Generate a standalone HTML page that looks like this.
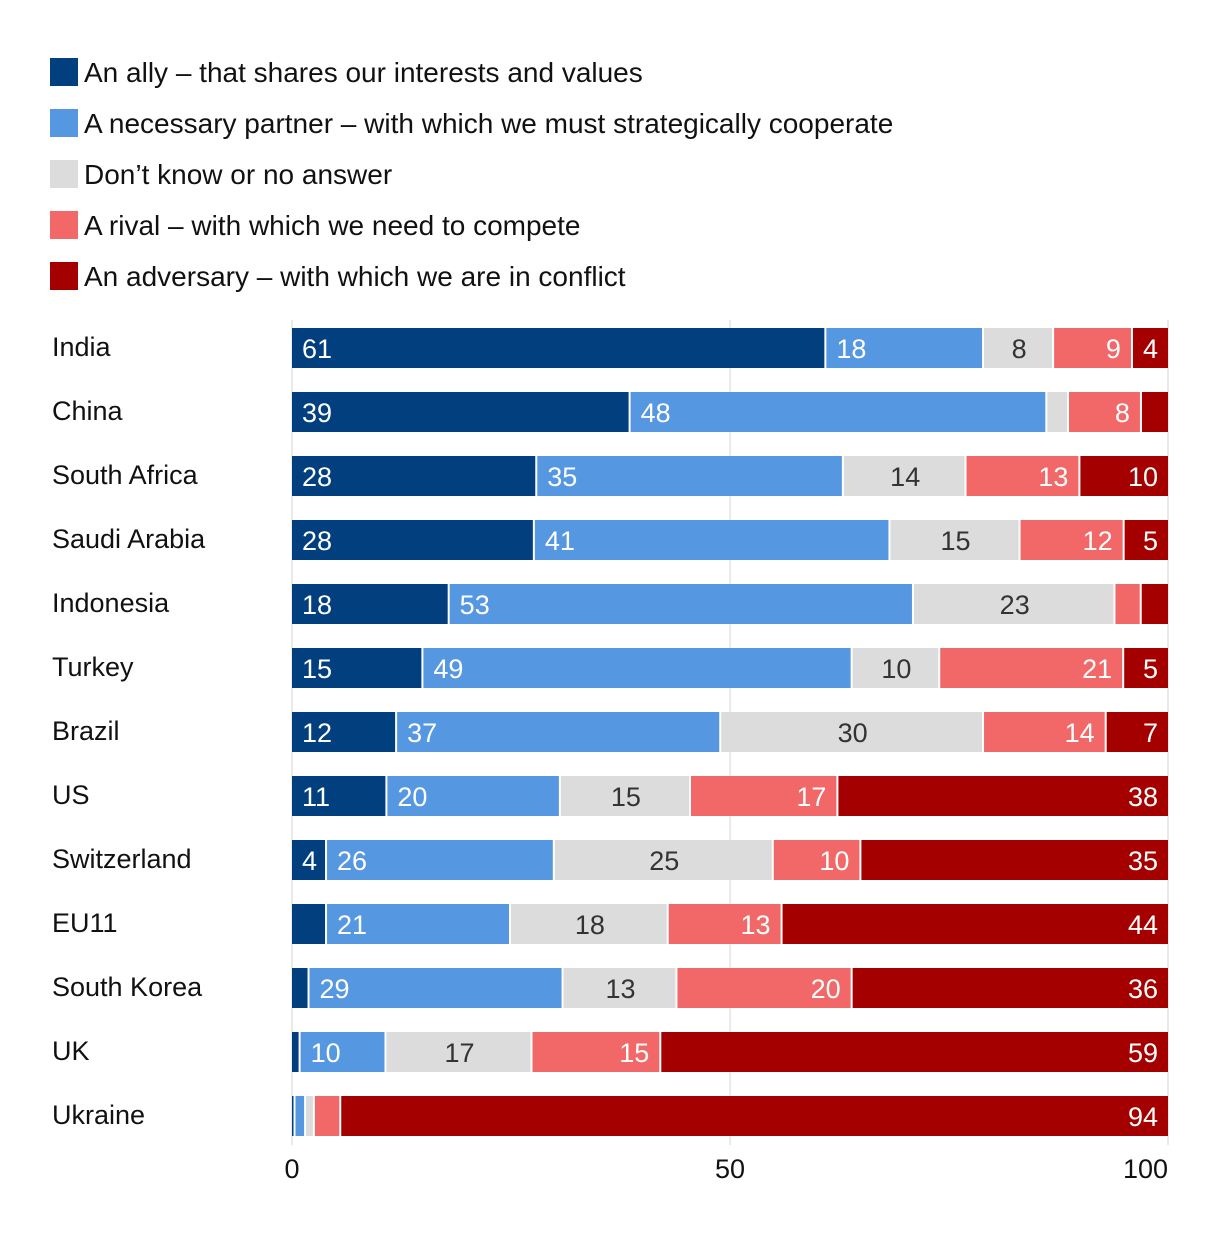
<!DOCTYPE html>
<html><head><meta charset="utf-8"><style>
body{margin:0;background:#fff;font-family:"Liberation Sans",sans-serif;}
svg text{font-family:"Liberation Sans",sans-serif;}
</style></head><body>
<svg id="chart" width="1220" height="1230" xmlns="http://www.w3.org/2000/svg">
<g id="legend"></g>
<g id="grid"></g>
<g id="bars"></g>
<g id="axis"></g>
</svg>
<script>
const categories=["India","China","South Africa","Saudi Arabia","Indonesia","Turkey","Brazil","US","Switzerland","EU11","South Korea","UK","Ukraine"];
const ally=[61,39,28,28,18,15,12,11,4,4,2,1,0.4];
const partner=[18,48,35,41,53,49,37,20,26,21,29,10,1.2];
const dontKnow=[8,2.5,14,15,23,10,30,15,25,18,13,17,1];
const rival=[9,8.4,13,12,3,21,14,17,10,13,20,15,3];
const adversary=[4,3,10,5,3,5,7,38,35,44,36,59,94];
const seriesNames=["An ally \u2013 that shares our interests and values","A necessary partner \u2013 with which we must strategically cooperate","Don\u2019t know or no answer","A rival \u2013 with which we need to compete","An adversary \u2013 with which we are in conflict"];
const tickValues=[0,50,100];
const hiddenLabels=["EU11-0"];
const series=[ally,partner,dontKnow,rival,adversary];
const colors=["#023f7f","#5597e1","#dcdcdc","#f26868","#a50000"];
const textColors=["#fff","#fff","#333","#fff","#fff"];
const align=["start","start","middle","end","end"];
const keys=["ally","partner","dont-know","rival","adversary"];
const NS="http://www.w3.org/2000/svg";
const x0=292,x1=1168;
const xs=v=>x0+(x1-x0)*v/100;
const rowY=i=>328+i*64;
function mk(tag,attrs,parent){const e=document.createElementNS(NS,tag);for(const k in attrs)e.setAttribute(k,attrs[k]);parent.appendChild(e);return e;}
const legend=document.getElementById('legend');
seriesNames.forEach((n,i)=>{
  const y=58+i*51;
  const r=mk('rect',{x:50,y:y,width:28,height:28,fill:colors[i]},legend);
  
  
  const t=mk('text',{x:84,y:y+24,'font-size':28,fill:'#111'},legend);
  t.textContent=n;
  
  
});
const grid=document.getElementById('grid');
tickValues.forEach(v=>{
  const l=mk('line',{x1:xs(v),x2:xs(v),y1:320,y2:1145,stroke:'#e4e4e4','stroke-width':1.5},grid);
  
  
});
const bars=document.getElementById('bars');
categories.forEach((c,i)=>{
  const y=rowY(i);
  const lab=mk('text',{x:52,y:y+28,'font-size':27,fill:'#111'},bars);
  lab.textContent=c;
  
  
  const total=series.reduce((s,a)=>s+a[i],0);
  let cum=0;
  series.forEach((arr,s)=>{
    const v=arr[i];
    const a=xs(cum*100/total),b=xs((cum+v)*100/total);
    cum+=v;
    const w=Math.max(0,b-a-(s<4?2:0));
    const r=mk('rect',{x:a,y:y,width:w,height:40,fill:colors[s]},bars);
    
    
    if(v>=4&&hiddenLabels.indexOf(c+'-'+s)<0){
      const tx=align[s]==='start'?a+10:align[s]==='middle'?(a+b)/2:a+w-10;
      const t=mk('text',{x:tx,y:y+30,'font-size':27,fill:textColors[s],'text-anchor':align[s]},bars);
      t.textContent=Math.round(v);
      
      
    }
  });
});
const axis=document.getElementById('axis');
tickValues.forEach((v,i)=>{
  const t=mk('text',{x:i===2?xs(v):xs(v),y:1178,'font-size':27,fill:'#111','text-anchor':i===2?'end':'middle'},axis);
  t.textContent=v;
  
  
});
</script>
</body></html>
